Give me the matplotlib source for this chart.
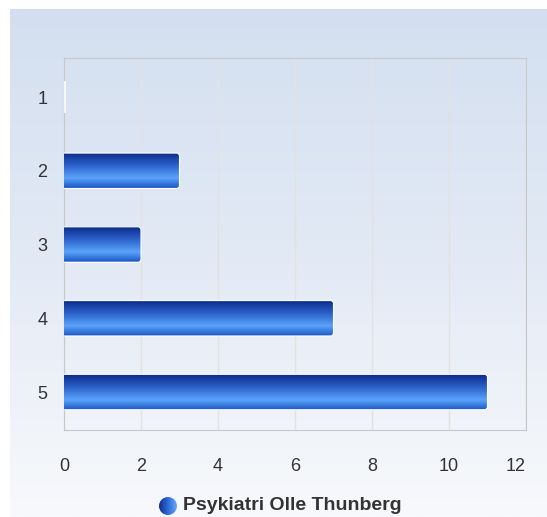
import numpy as np
import matplotlib.pyplot as plt
from matplotlib.colors import LinearSegmentedColormap
from matplotlib.patches import FancyBboxPatch, Circle

plt.rcParams['font.family'] = ['Liberation Sans', 'DejaVu Sans']

categories = ['1', '2', '3', '4', '5']
values = [0, 3, 2, 7, 11]
series_name = 'Psykiatri Olle Thunberg'
xticks = [0, 2, 4, 6, 8, 10, 12]

fig = plt.figure(figsize=(5.47, 5.17), dpi=100)
fig.patch.set_facecolor('white')

# background gradient panel
bg = fig.add_axes([10 / 547, 0, 1 - 10 / 547, 1 - 9 / 517], zorder=-5)
bg_cmap = LinearSegmentedColormap.from_list('bg', ['#d3dff0', '#e3eaf5', '#f8f9fc'])
bg.imshow(np.linspace(0, 1, 256).reshape(-1, 1), cmap=bg_cmap, aspect='auto',
          extent=[0, 1, 0, 1], origin='upper')
bg.axis('off')

ax = fig.add_axes([64 / 547, 1 - 430 / 517, 462 / 547, 372 / 517])
ax.set_facecolor('none')
ax.set_xlim(0, 12)
ax.set_ylim(5.515, 0.471)

bar_cmap = LinearSegmentedColormap.from_list(
    'bar', [(0, '#0a2a86'), (0.35, '#2a5fc8'), (0.72, '#5aa3fa'), (1, '#1a56c4')])
grad = np.linspace(0, 1, 128).reshape(-1, 1)
h = 0.48
ypos = np.arange(1, len(categories) + 1)
for y, v in zip(ypos, values):
    if v <= 0:
        ax.plot([0.02, 0.02], [y - 0.2, y + 0.2], color='white', lw=1.2, zorder=3)
        continue
    patch = FancyBboxPatch((-0.3, y - h / 2), v + 0.3, h,
                           boxstyle='round,pad=0,rounding_size=0.08',
                           mutation_aspect=0.522, facecolor='none',
                           edgecolor='white', lw=0.8, zorder=4)
    ax.add_patch(patch)
    im = ax.imshow(grad, cmap=bar_cmap, aspect='auto', extent=[0, v, y + h / 2, y - h / 2],
                   origin='upper', zorder=3, interpolation='bilinear')
    im.set_clip_path(patch)

ax.set_xlim(0, 12)
ax.set_ylim(5.515, 0.471)
ax.set_xticks(xticks)
ax.set_yticks(ypos)
ax.set_yticklabels(categories)
ax.grid(axis='x', color='#e2e2e2', lw=1)
ax.set_axisbelow(True)
ax.tick_params(length=0, labelsize=13, colors='#333333')
ax.tick_params(axis='x', pad=20)
ax.tick_params(axis='y', pad=12)
ax.get_xticklabels()[-1].set_ha('right')
for s in ax.spines.values():
    s.set_color('#c8c8c8')

# legend
lax = fig.add_axes([158 / 547, 1 - 516 / 517, 20 / 547, 20 / 517])
lax.set_xlim(0, 1)
lax.set_ylim(0, 1)
lax.axis('off')
circ = Circle((0.5, 0.5), 0.45, transform=lax.transData, facecolor='none', edgecolor='none')
lax.add_patch(circ)
leg_cmap = LinearSegmentedColormap.from_list('leg', ['#0a2a86', '#2f6ad6', '#6aaefc'])
li = lax.imshow(np.linspace(0, 1, 64).reshape(1, -1), cmap=leg_cmap, aspect='auto',
                extent=[0, 1, 0, 1])
li.set_clip_path(circ)
fig.text(183 / 547, 1 - 506 / 517, series_name, fontsize=14, fontweight='bold',
         color='#333333', va='center', ha='left')

fig.savefig('out.png', dpi=100)
